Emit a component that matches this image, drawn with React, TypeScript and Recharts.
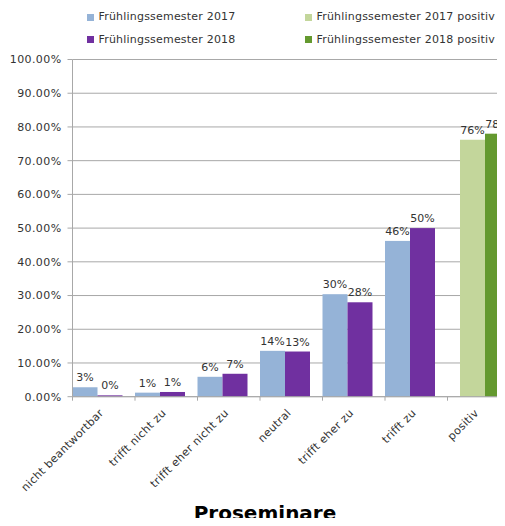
import React from 'react';
import { BarChart, Bar, XAxis, YAxis, CartesianGrid, LabelList } from 'recharts';

const categories = [
  'nicht beantwortbar',
  'trifft nicht zu',
  'trifft eher nicht zu',
  'neutral',
  'trifft eher zu',
  'trifft zu',
  'positiv',
];
const fs2017: (number | null)[] = [2.8, 1.2, 5.9, 13.6, 30.4, 46.2, null];
const fs2018: (number | null)[] = [0.4, 1.4, 6.8, 13.4, 28.0, 50.0, null];
const fs2017Positiv: (number | null)[] = [null, null, null, null, null, null, 76.2];
const fs2018Positiv: (number | null)[] = [null, null, null, null, null, null, 78.0];
const yTicks = [0, 10, 20, 30, 40, 50, 60, 70, 80, 90, 100];
const seriesNames = [
  'Frühlingssemester 2017',
  'Frühlingssemester 2018',
  'Frühlingssemester 2017 positiv',
  'Frühlingssemester 2018 positiv',
];
const chartTitle = 'Proseminare';

const data = categories.map((cat, i) => ({
  cat,
  a: fs2017[i],
  b: fs2018[i],
  c: fs2017Positiv[i],
  d: fs2018Positiv[i],
}));

const COLORS = ['#95B3D7', '#7030A0', '#C3D69B', '#64992F'];
const FONT = '"DejaVu Sans", Verdana, sans-serif';
const TEXT = '#333333';
const GRID = '#A8A8A8';
const SHIFT_MAIN = -6.75;
const SHIFT_POS = 5.75;

const makeShape = (shift: number) => (props: any) => {
  const { x, y, width, height, fill } = props;
  if (!height || height <= 0 || !isFinite(y)) return <g />;
  return <rect x={Number(x) + shift} y={y} width={width} height={height} fill={fill} />;
};

const makeLabel = (shift: number) => (props: any) => {
  const { x, y, width, value } = props;
  if (value === null || value === undefined) return null;
  return (
    <text
      x={Number(x) + Number(width) / 2 + shift}
      y={Number(y) - 6}
      textAnchor="middle"
      fontFamily={FONT}
      fontSize={11}
      fill={TEXT}
    >
      {`${Math.round(Number(value))}%`}
    </text>
  );
};

const XTick = (props: any) => {
  const { x, y, payload } = props;
  const half = payload && payload.offset ? payload.offset : 31.25;
  const isLast = payload && payload.index === categories.length - 1;
  const ax = x + 0.5;
  const ay = y + 17;
  return (
    <g>
      <line x1={x - half} x2={x - half} y1={y} y2={y + 4} stroke={GRID} />
      {isLast && <line x1={x + half} x2={x + half} y1={y} y2={y + 4} stroke={GRID} />}
      <text
        x={ax}
        y={ay}
        textAnchor="end"
        transform={`rotate(-45, ${ax}, ${ay})`}
        fontFamily={FONT}
        fontSize={11}
        letterSpacing={0.3}
        fill={TEXT}
      >
        {payload.value}
      </text>
    </g>
  );
};

const legendPos = [
  { left: 87, top: 17 },
  { left: 87, top: 39.5 },
  { left: 305, top: 17 },
  { left: 305, top: 39.5 },
];

export default function App() {
  return (
    <div
      style={{
        position: 'relative',
        margin: -8,
        width: 505,
        height: 526,
        overflow: 'hidden',
        background: '#ffffff',
        fontFamily: FONT,
      }}
    >
      {seriesNames.map((name, i) => (
        <div
          key={name}
          style={{
            position: 'absolute',
            left: legendPos[i].left,
            top: legendPos[i].top - 7,
            height: 14,
            lineHeight: '14px',
            display: 'flex',
            alignItems: 'center',
            whiteSpace: 'nowrap',
            fontSize: 11,
            letterSpacing: 0.2,
            color: TEXT,
          }}
        >
          <span style={{ display: 'inline-block', width: 7, height: 7, background: COLORS[i], marginRight: 4.5 }} />
          {name}
        </div>
      ))}
      <div style={{ position: 'absolute', left: 0, top: 0 }}>
        <BarChart
          width={510}
          height={526}
          data={data}
          margin={{ top: 59.5, right: 0, bottom: 0, left: 0 }}
          barCategoryGap={6.75}
          barGap={0}
        >
          <CartesianGrid vertical={false} stroke={GRID} />
          <XAxis
            dataKey="cat"
            height={129.3}
            interval={0}
            tickLine={false}
            tickSize={0}
            tickMargin={0}
            axisLine={{ stroke: GRID }}
            tick={<XTick />}
          />
          <YAxis
            width={72.5}
            domain={[0, 100]}
            ticks={yTicks}
            tickFormatter={(v: number) => `${v.toFixed(2)}%`}
            tickSize={5}
            tickMargin={6}
            tickLine={{ stroke: GRID }}
            axisLine={{ stroke: GRID }}
            tick={{ fontFamily: FONT, fontSize: 11, fill: TEXT, letterSpacing: 0.4 }}
            interval={0}
          />
          <Bar dataKey="a" name={seriesNames[0]} stackId="s1" fill={COLORS[0]} isAnimationActive={false} shape={makeShape(SHIFT_MAIN)}>
            <LabelList dataKey="a" content={makeLabel(SHIFT_MAIN)} />
          </Bar>
          <Bar dataKey="b" name={seriesNames[1]} stackId="s2" fill={COLORS[1]} isAnimationActive={false} shape={makeShape(SHIFT_MAIN)}>
            <LabelList dataKey="b" content={makeLabel(SHIFT_MAIN)} />
          </Bar>
          <Bar dataKey="c" name={seriesNames[2]} stackId="s1" fill={COLORS[2]} isAnimationActive={false} shape={makeShape(SHIFT_POS)}>
            <LabelList dataKey="c" content={makeLabel(SHIFT_POS)} />
          </Bar>
          <Bar dataKey="d" name={seriesNames[3]} stackId="s2" fill={COLORS[3]} isAnimationActive={false} shape={makeShape(SHIFT_POS)}>
            <LabelList dataKey="d" content={makeLabel(SHIFT_POS)} />
          </Bar>
        </BarChart>
      </div>
      <div
        style={{
          position: 'absolute',
          left: 165,
          width: 200,
          top: 502.5,
          height: 20,
          lineHeight: '20px',
          textAlign: 'center',
          fontSize: 20,
          fontWeight: 'bold',
          color: '#000',
        }}
      >
        {chartTitle}
      </div>
    </div>
  );
}
